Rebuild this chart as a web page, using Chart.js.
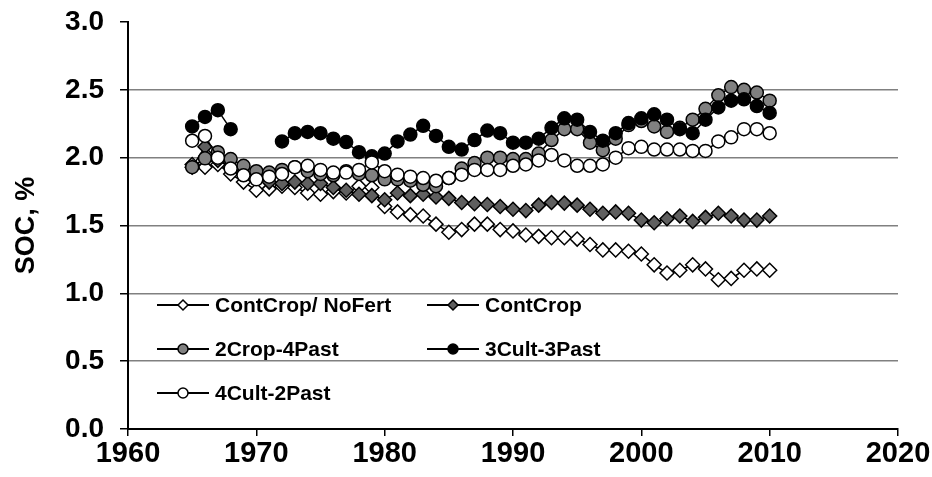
<!DOCTYPE html>
<html>
<head>
<meta charset="utf-8">
<script src="https://cdn.jsdelivr.net/npm/chart.js@4.4.1/dist/chart.umd.min.js"></script>
<style>
  html, body { margin: 0; padding: 0; background: #fff; }
  #wrap { width: 932px; height: 477px; position: relative; }
</style>
</head>
<body>
<div id="wrap"><canvas id="chart"></canvas></div>
<script>
// years sampled (one value per year, 1965-2010)
const years = [];
for (let y = 1965; y <= 2010; y++) years.push(y);

const contCropNoFert = [1.95, 1.93, 1.95, 1.88, 1.82, 1.76, 1.77, 1.79, 1.78, 1.74,
  1.73, 1.75, 1.74, 1.79, 1.78, 1.64, 1.60, 1.58, 1.57, 1.51,
  1.45, 1.47, 1.51, 1.51, 1.47, 1.46, 1.43, 1.42, 1.41, 1.41,
  1.40, 1.36, 1.32, 1.32, 1.31, 1.29, 1.21, 1.15, 1.17, 1.21,
  1.18, 1.10, 1.11, 1.17, 1.18, 1.17];

const contCrop = [1.93, 2.08, 1.98, 1.93, 1.88, 1.85, 1.82, 1.81, 1.82, 1.81,
  1.81, 1.78, 1.76, 1.73, 1.72, 1.69, 1.74, 1.72, 1.73, 1.71,
  1.70, 1.67, 1.66, 1.655, 1.64, 1.62, 1.61, 1.65, 1.67, 1.665,
  1.65, 1.62, 1.59, 1.60, 1.59, 1.54, 1.52, 1.55, 1.57, 1.53,
  1.56, 1.59, 1.57, 1.54, 1.54, 1.57];

const crop2Past4 = [1.93, 1.995, 2.04, 1.99, 1.94, 1.90, 1.89, 1.91, 1.93, 1.90,
  1.88, 1.87, 1.90, 1.88, 1.87, 1.84, 1.84, 1.83, 1.80, 1.79,
  1.85, 1.92, 1.96, 2.00, 2.00, 1.99, 1.99, 2.03, 2.13, 2.21,
  2.21, 2.11, 2.055, 2.14, 2.24, 2.27, 2.23, 2.19, 2.22, 2.28,
  2.36, 2.46, 2.52, 2.50, 2.48, 2.42];

const cult3Past3 = [2.23, 2.30, 2.35, 2.21, null, null, null, 2.12, 2.18, 2.19,
  2.18, 2.14, 2.115, 2.04, 2.01, 2.03, 2.12, 2.17, 2.235, 2.16,
  2.08, 2.06, 2.13, 2.20, 2.18, 2.11, 2.11, 2.14, 2.22, 2.29,
  2.28, 2.19, 2.125, 2.18, 2.255, 2.29, 2.32, 2.28, 2.21, 2.18,
  2.28, 2.37, 2.42, 2.43, 2.38, 2.33];

const cult4Past2 = [2.125, 2.16, 2.00, 1.92, 1.87, 1.84, 1.86, 1.88, 1.93, 1.94,
  1.91, 1.89, 1.89, 1.91, 1.965, 1.90, 1.875, 1.86, 1.85, 1.83,
  1.85, 1.875, 1.91, 1.91, 1.91, 1.94, 1.95, 1.98, 2.02, 1.98,
  1.94, 1.94, 1.95, 2.00, 2.07, 2.08, 2.06, 2.06, 2.06, 2.05,
  2.05, 2.12, 2.15, 2.21, 2.21, 2.18];

const seriesNames = ['ContCrop/ NoFert', 'ContCrop', '2Crop-4Past', '3Cult-3Past', '4Cult-2Past'];
const yTicks = [0, 0.5, 1.0, 1.5, 2.0, 2.5, 3.0];
const xTicks = [1960, 1970, 1980, 1990, 2000, 2010, 2020];

const FONT = '"Liberation Sans", Arial, sans-serif';

function pts(vals) {
  return years.map((yr, i) => ({ x: yr, y: vals[i] }));
}

function series(label, vals, style, fill, radius, order) {
  return {
    label,
    data: pts(vals),
    order,
    borderColor: '#000',
    borderWidth: 1.5,
    pointStyle: style,
    pointRadius: radius,
    pointHoverRadius: radius,
    pointBackgroundColor: fill,
    pointBorderColor: '#000',
    pointBorderWidth: 1.5,
    spanGaps: false,
    tension: 0,
    fill: false
  };
}

// legend drawn inside the plot, two columns, like the original
const insideLegend = {
  id: 'insideLegend',
  afterDraw(chart) {
    const ctx = chart.ctx;
    const a = chart.chartArea;
    ctx.save();
    ctx.font = 'bold 21px ' + FONT;
    ctx.textBaseline = 'middle';
    ctx.textAlign = 'left';
    chart.data.datasets.forEach((ds, i) => {
      const col = i % 2, row = Math.floor(i / 2);
      const x0 = a.left + 29 + col * 270;
      const y = a.top + 283 + row * 44;
      ctx.strokeStyle = '#000';
      ctx.lineWidth = 2;
      ctx.beginPath();
      ctx.moveTo(x0, y);
      ctx.lineTo(x0 + 52, y);
      ctx.stroke();
      ctx.fillStyle = ds.pointBackgroundColor;
      ctx.lineWidth = 1.5;
      Chart.helpers.drawPoint(ctx, { pointStyle: ds.pointStyle, radius: 5, borderWidth: 1.5, rotation: 0 }, x0 + 26, y);
      ctx.fillStyle = '#000';
      ctx.fillText(ds.label, x0 + 58, y + 1);
    });
    ctx.restore();
  }
};

new Chart(document.getElementById('chart').getContext('2d'), {
  type: 'line',
  data: {
    datasets: [
      series(seriesNames[0], contCropNoFert, 'rectRot', '#ffffff', 7, 5),
      series(seriesNames[1], contCrop, 'rectRot', '#5f5f5f', 7, 4),
      series(seriesNames[2], crop2Past4, 'circle', '#808080', 6.5, 3),
      series(seriesNames[3], cult3Past3, 'circle', '#000000', 6.5, 2),
      series(seriesNames[4], cult4Past2, 'circle', '#ffffff', 6.5, 1)
    ]
  },
  options: {
    responsive: true,
    maintainAspectRatio: false,
    animation: false,
    layout: { padding: { top: 22, right: 34, bottom: 0, left: 0 } },
    plugins: { legend: { display: false }, tooltip: { enabled: false } },
    scales: {
      x: {
        type: 'linear',
        min: 1960,
        max: 2020,
        afterBuildTicks: s => { s.ticks = xTicks.map(v => ({ value: v })); },
        afterFit: s => { s.height = 48; s.paddingLeft = 0; s.paddingRight = 0; },
        ticks: {
          color: '#000',
          font: { family: FONT, size: 29, weight: 'bold' },
          padding: 1,
          maxRotation: 0,
          callback: v => String(v)
        },
        grid: { drawOnChartArea: false, tickLength: 7, color: '#000', lineWidth: 1.5 },
        border: { color: '#000', width: 2 }
      },
      y: {
        min: 0,
        max: 3,
        afterBuildTicks: s => { s.ticks = yTicks.map(v => ({ value: v })); },
        afterFit: s => { s.width = 128; s.paddingTop = 0; s.paddingBottom = 0; },
        ticks: {
          color: '#000',
          font: { family: FONT, size: 28, weight: 'bold' },
          padding: 16,
          callback: v => Number(v).toFixed(1)
        },
        grid: {
          tickLength: 8,
          tickColor: '#000',
          lineWidth: 1.5,
          color: c => (c.tick.value > 0 && c.tick.value < 3) ? '#808080' : 'rgba(0,0,0,0)'
        },
        border: { color: '#000', width: 2 },
        title: {
          display: true,
          text: 'SOC, %',
          color: '#000',
          font: { family: FONT, size: 27, weight: 'bold' },
          padding: { top: 10, bottom: 0 }
        }
      }
    }
  },
  plugins: [insideLegend]
});
</script>
</body>
</html>
